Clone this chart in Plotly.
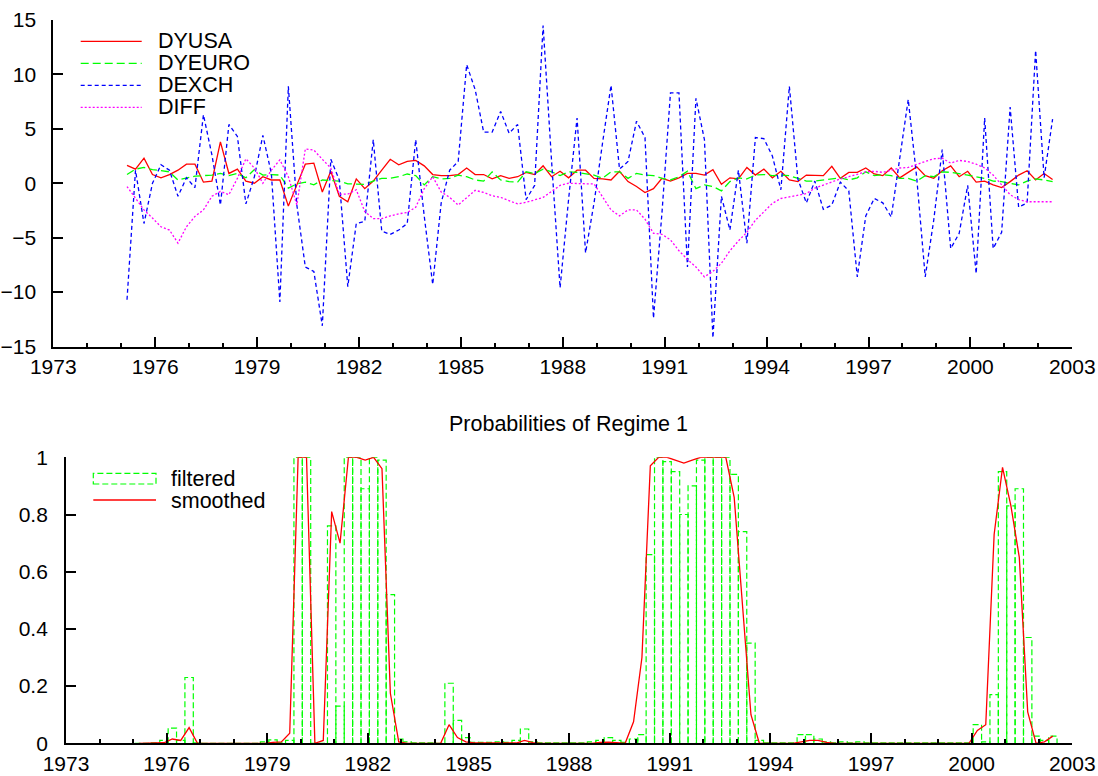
import numpy as np
import plotly.graph_objects as go

# ---------------- data (quarterly) ----------------
first_obs = 1975.17
n_obs = 110
dates = first_obs + np.arange(n_obs) / 4.0

dyusa = [1.65, 1.3, 2.3, 0.8, 0.5, 0.8, 1.2, 1.75, 1.75, 0.1,
         0.2, 3.8, 0.9, 1.3, 0.2, 0.0, 0.6, 0.3, 0.3, -2.1,
         -0.15, 1.75, 1.85, -0.8, 1.1, -1.2, -1.7, 0.4, -0.5, 0.2,
         1.2, 2.2, 1.7, 2.0, 2.1, 1.6, 0.8, 0.7, 0.7, 0.8,
         1.4, 0.8, 0.8, 0.4, 0.7, 0.45, 0.6, 1.0, 0.8, 1.6,
         0.6, 1.1, 0.5, 1.2, 1.2, 0.45, 0.4, 0.3, 1.1, 0.15,
         -0.3, -0.85, -0.5, 0.45, 0.2, 0.5, 0.9, 0.9, 0.75, 1.25,
         -0.1, 0.5, 0.4, 1.45, 0.75, 1.3, 0.5, 1.1, 0.3, 0.15,
         0.75, 0.7, 0.7, 1.55, 0.45, 1.0, 1.0, 1.4, 0.85, 0.7,
         1.4, 0.5, 1.0, 1.5, 0.7, 0.45, 1.15, 1.6, 0.6, 1.1,
         0.1, 0.2, -0.15, -0.4, 0.15, 0.75, 1.15, 0.3, 0.9, 0.35]

dyeuro = [0.8, 1.3, 1.45, 1.25, 1.15, 1.05, 0.3, 0.45, 0.65, 0.7,
          0.75, 0.9, 0.7, 0.9, 0.5, 1.25, 0.75, 0.8, 0.75, -0.45,
          -0.05, 0.1, -0.15, 0.3, 0.25, 0.2, -0.05, -0.1, -0.1, 0.2,
          0.45, 0.45, 0.6, 0.85, 0.7, -0.15, 0.6, 0.4, 0.45, 0.75,
          0.6, 0.3, 0.2, 1.05, 0.3, 0.15, 0.1, 1.05, 0.9, 1.3,
          1.05, 0.7, 1.05, 1.0, 0.9, 0.75, 0.45, 1.05, 1.05, 0.45,
          0.9, 0.75, 0.7, 0.45, 0.3, 0.6, 1.1, -0.5, -0.15, -0.3,
          -0.7, 0.15, 0.5, 0.4, 0.75, 0.8, 0.7, 0.75, 0.7, 0.45,
          0.2, 0.2, 0.3, 0.45, 0.5, 0.3, 0.5, 1.05, 0.7, 0.8,
          0.7, 0.45, 0.45, 0.2, 0.7, 0.6, 1.05, 1.0, 0.9, 0.75,
          0.6, 0.45, 0.2, 0.15, 0.0, -0.15, 0.2, 0.4, 0.3, 0.15]

dexch = [-10.7, 1.2, -3.7, 0.0, 1.7, 1.2, -1.2, 0.5, -0.4, 6.3,
         2.6, -2.0, 5.4, 4.3, -1.9, 0.6, 4.4, 0.9, -10.9, 8.9,
         -2.0, -7.7, -8.1, -13.1, 2.2, 0.3, -9.5, -3.7, -3.5, 4.0,
         -4.4, -4.7, -4.3, -3.7, 4.0, -3.0, -9.3, -1.8, 1.2, 2.0,
         10.9, 8.6, 4.7, 4.7, 6.6, 4.6, 5.4, -1.5, -0.2, 14.5,
         2.0, -9.6, -1.5, 6.0, -6.4, -1.8, 3.7, 9.0, 1.3, 2.0,
         5.7, 4.2, -12.4, -2.7, 8.3, 8.3, -7.7, 7.8, 4.0, -14.2,
         -1.2, -4.3, 1.2, -5.5, 4.2, 4.1, 2.5, -0.6, 8.9, 0.4,
         -1.8, 0.2, -2.4, -2.0, 0.1, -0.7, -8.6, -3.0, -1.4, -1.8,
         -3.1, 2.5, 7.7, 0.5, -8.6, -3.4, 3.1, -6.0, -4.6, -0.2,
         -8.3, 6.0, -6.0, -4.5, 7.0, -2.2, -1.8, 12.2, 0.5, 5.9]

diff = [-0.3, -1.4, -2.45, -3.2, -4.0, -4.3, -5.5, -4.0, -3.05, -2.45,
        -1.2, -0.75, -1.05, 0.45, 2.25, 1.4, 0.0, 1.2, 2.15, 0.6,
        -2.0, 3.15, 3.05, 2.2, 1.4, -1.0, -1.0, -0.6, -2.6, -3.25,
        -3.25, -3.0, -2.8, -2.7, -2.2, -0.5, 0.6, -0.8, -1.3, -2.0,
        -1.3, -0.65, -0.85, -1.15, -1.3, -1.6, -1.9, -1.75, -1.55, -1.3,
        -0.75, -0.2, 0.0, -0.05, -0.05, -0.05, -1.3, -2.45, -3.0, -2.45,
        -2.45, -3.3, -4.6, -4.7, -5.2, -6.2, -7.0, -7.7, -8.6, -8.1,
        -7.35, -6.2, -5.3, -4.5, -3.4, -2.6, -1.85, -1.4, -1.25, -1.15,
        -0.95, -0.45, -0.15, 0.15, 0.4, 0.6, 0.8, 1.05, 1.1, 1.0,
        1.2, 1.4, 1.45, 1.75, 2.0, 2.25, 2.3, 1.85, 2.1, 2.0,
        1.75, 1.4, 0.75, -0.15, -1.05, -1.5, -1.7, -1.7, -1.7, -1.7]

filtered = [0.0, 0.0, 0.002, 0.01, 0.053, 0.01, 0.23, 0.002, 0.0, 0.0,
            0.0, 0.0, 0.0, 0.0, 0.0, 0.005, 0.012, 0.002, 0.01, 1.0,
            1.0, 0.0, 0.0, 0.76, 0.13, 1.0, 1.0, 0.89, 1.0, 0.99,
            0.52, 0.015, 0.005, 0.002, 0.002, 0.002, 0.0, 0.21, 0.08, 0.02,
            0.003, 0.003, 0.003, 0.005, 0.003, 0.01, 0.05, 0.005, 0.002, 0.002,
            0.002, 0.002, 0.002, 0.002, 0.005, 0.01, 0.02, 0.01, 0.003, 0.015,
            0.03, 0.66, 1.0, 0.985, 0.95, 0.80, 0.90, 0.99, 1.0, 1.0,
            1.0, 0.94, 0.74, 0.35, 0.01, 0.002, 0.002, 0.002, 0.002, 0.03,
            0.03, 0.015, 0.005, 0.002, 0.005, 0.002, 0.005, 0.002, 0.002, 0.002,
            0.002, 0.002, 0.002, 0.002, 0.002, 0.002, 0.002, 0.002, 0.002, 0.002,
            0.065, 0.005, 0.17, 0.95, 0.83, 0.89, 0.37, 0.025, 0.01, 0.025]

smoothed = [0.0, 0.0, 0.0, 0.002, 0.015, 0.01, 0.055, 0.0, 0.0, 0.0,
            0.0, 0.0, 0.0, 0.0, 0.0, 0.0, 0.003, 0.005, 0.035, 1.0,
            1.0, 0.0, 0.01, 0.81, 0.70, 1.0, 1.0, 0.99, 1.0, 0.96,
            0.175, 0.005, 0.0, 0.0, 0.0, 0.0, 0.0, 0.065, 0.02, 0.005,
            0.001, 0.001, 0.001, 0.001, 0.001, 0.001, 0.01, 0.002, 0.0, 0.0,
            0.0, 0.0, 0.0, 0.0, 0.0, 0.003, 0.004, 0.002, 0.0, 0.075,
            0.3, 0.97, 1.0, 1.0, 0.99, 0.98, 0.99, 1.0, 1.0, 1.0,
            1.0, 0.86, 0.47, 0.1, 0.0, 0.0, 0.0, 0.0, 0.0, 0.005,
            0.01, 0.01, 0.003, 0.0, 0.0, 0.0, 0.0, 0.0, 0.0, 0.0,
            0.0, 0.0, 0.0, 0.0, 0.0, 0.0, 0.0, 0.0, 0.0, 0.0,
            0.045, 0.065, 0.73, 0.965, 0.83, 0.65, 0.11, 0.0, 0.005, 0.025]

year_ticks = list(range(1973, 2004, 3))
box_width = 0.25  # one quarter

# ---------------- figure ----------------
W, H = 1098, 776
FONT = "Liberation Sans, Arial, Helvetica, sans-serif"
FS = 21.5
TFS = 21

def px_x(p):
    return p / W

def px_y(p):
    return 1 - p / H

RED, GREEN, BLUE, MAG = "#ff0000", "#00ff00", "#0000ff", "#ff00ff"

fig = go.Figure()

fig.add_trace(go.Scatter(x=dates, y=dyusa, mode="lines", name="DYUSA",
                         line=dict(color=RED, width=1.3), xaxis="x", yaxis="y"))
fig.add_trace(go.Scatter(x=dates, y=dyeuro, mode="lines", name="DYEURO",
                         line=dict(color=GREEN, width=1.3, dash="8px,4px"), xaxis="x", yaxis="y"))
fig.add_trace(go.Scatter(x=dates, y=dexch, mode="lines", name="DEXCH",
                         line=dict(color=BLUE, width=1.3, dash="4px,3px"), xaxis="x", yaxis="y"))
fig.add_trace(go.Scatter(x=dates, y=diff, mode="lines", name="DIFF",
                         line=dict(color=MAG, width=1.3, dash="2px,2px"), xaxis="x", yaxis="y"))

# filtered probabilities drawn as outlined boxes (dashed), built from the data
bx, by = [], []
for d, f in zip(dates, filtered):
    l, r = d - box_width / 2, d + box_width / 2
    bx += [l, l, r, r, None]
    by += [0, f, f, 0, None]
fig.add_trace(go.Scatter(x=bx, y=by, mode="lines", name="filtered",
                         line=dict(color=GREEN, width=1.2, dash="6px,3px"),
                         xaxis="x2", yaxis="y2"))
fig.add_trace(go.Scatter(x=dates, y=smoothed, mode="lines", name="smoothed",
                         line=dict(color=RED, width=1.3), xaxis="x2", yaxis="y2"))

axis_common = dict(showline=True, linecolor="black", linewidth=1.8, ticks="inside",
                   tickcolor="black", tickwidth=1.5, showgrid=False, zeroline=False,
                   automargin=False,
                   tickfont=dict(family=FONT, size=TFS, color="black"), mirror=False)

xcommon = dict(axis_common, range=[1973, 2003], tickmode="array", tickvals=year_ticks,
               ticktext=[str(v) for v in year_ticks], ticklen=10,
               minor=dict(tickmode="linear", tick0=1973, dtick=1, ticks="inside",
                          ticklen=4, tickwidth=1.5, tickcolor="black"))

fig.update_layout(
    width=W, height=H, margin=dict(l=0, r=0, t=0, b=0, pad=0, autoexpand=False),
    paper_bgcolor="white", plot_bgcolor="white", showlegend=False,
    font=dict(family=FONT, size=FS, color="black"),
    xaxis=dict(xcommon, domain=[px_x(53.3), px_x(1072.3)], anchor="y",
               ticklabelstandoff=0),
    yaxis=dict(axis_common, domain=[px_y(346.5), px_y(20)], anchor="x",
               range=[-15, 15], tickmode="linear", tick0=-15, dtick=5, ticklen=10,
               ticklabelstandoff=11),
    xaxis2=dict(xcommon, domain=[px_x(66), px_x(1072.3)], anchor="y2",
                ticklabelstandoff=1),
    yaxis2=dict(axis_common, domain=[px_y(743.3), px_y(457.3)], anchor="x2",
                range=[0, 1], tickmode="linear", tick0=0, dtick=0.2, ticklen=10,
                ticklabelstandoff=12),
)

# title of lower panel
fig.add_annotation(text="Probabilities of Regime 1", x=px_x(569), y=px_y(424),
                   xref="paper", yref="paper", showarrow=False, xanchor="center",
                   yanchor="middle", font=dict(family=FONT, size=FS, color="black"))

# legend, upper panel
top_legend = [("DYUSA", RED, "solid", 41.3), ("DYEURO", GREEN, "8px,4px", 63.3),
              ("DEXCH", BLUE, "4px,3px", 85.3), ("DIFF", MAG, "2px,2px", 107.3)]
for name, col, dash, yy in top_legend:
    fig.add_shape(type="line", xref="paper", yref="paper", x0=px_x(80.7), x1=px_x(141.7),
                  y0=px_y(yy), y1=px_y(yy), line=dict(color=col, width=1.3, dash=dash))
    fig.add_annotation(text=name, x=px_x(155.5), y=px_y(yy), xref="paper", yref="paper",
                       showarrow=False, xanchor="left", yanchor="middle", height=20,
                       font=dict(family=FONT, size=FS, color="black"))

# legend, lower panel
fig.add_shape(type="rect", xref="paper", yref="paper", x0=px_x(93.3), x1=px_x(156),
              y0=px_y(484), y1=px_y(473.3), line=dict(color=GREEN, width=1.2, dash="6px,3px"))
fig.add_annotation(text="filtered", x=px_x(168.5), y=px_y(478.5), xref="paper", yref="paper",
                   showarrow=False, xanchor="left", yanchor="middle", height=20,
                   font=dict(family=FONT, size=FS, color="black"))
fig.add_shape(type="line", xref="paper", yref="paper", x0=px_x(93.3), x1=px_x(156),
              y0=px_y(500), y1=px_y(500), line=dict(color=RED, width=1.3))
fig.add_annotation(text="smoothed", x=px_x(168.5), y=px_y(500.5), xref="paper", yref="paper",
                   showarrow=False, xanchor="left", yanchor="middle", height=20,
                   font=dict(family=FONT, size=FS, color="black"))

fig.write_html("out.html")
